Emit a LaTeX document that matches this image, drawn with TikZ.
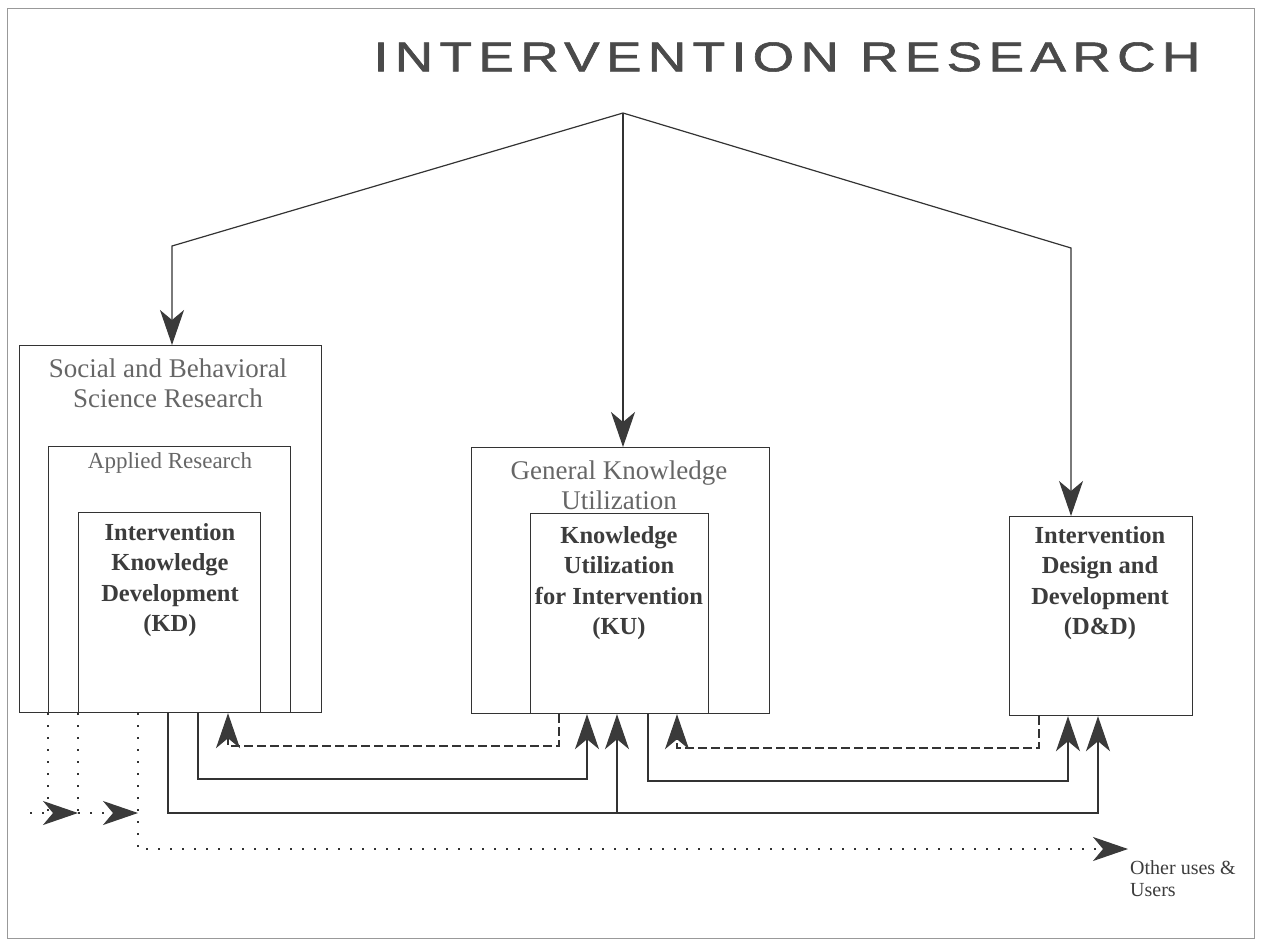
\documentclass[tikz,border=0pt]{standalone}
\usepackage{fontspec}
\usepackage{graphicx}
\setmainfont{Liberation Serif}
\newfontfamily\titlefont[LetterSpace=12, FakeBold=1.3]{Liberation Sans}
\usetikzlibrary{arrows.meta}
\definecolor{ink}{HTML}{333333}
\definecolor{tipc}{HTML}{3A3A3A}
\definecolor{outerlbl}{HTML}{666666}
\definecolor{innerlbl}{HTML}{3C3C3C}
\definecolor{titlec}{HTML}{4A4A4A}
\tikzset{
  box/.style={draw=ink, line width=1.2pt, anchor=north west, inner sep=0pt},
  conn/.style={draw=ink, line width=1.2pt},
  arr/.style={conn, -{Stealth[length=35pt, width=24pt, inset=10pt, fill=tipc, color=tipc]}},
  dashline/.style={dash pattern=on 9pt off 4pt},
  dotline/.style={dash pattern=on 2pt off 10pt},
  outertext/.style={text=outerlbl, align=center, inner sep=0pt, font=\fontsize{27}{30}\selectfont},
  innertext/.style={text=innerlbl, align=center, inner sep=0pt, font=\bfseries\fontsize{24.5}{30.5}\selectfont},
}
\begin{document}
\begin{tikzpicture}[x=1pt, y=-1pt]
\useasboundingbox (0,0) rectangle (1261,940);
% outer frame
\draw[draw=gray!80, line width=1pt] (7,8) rectangle (1254,938);

% title
\node[text=titlec, inner sep=0pt] (title) at (787,57) {\scalebox{1.33}[1.04]{\titlefont\fontsize{40}{42}\selectfont INTERVENTION RESEARCH}};

% boxes
\node[box, minimum width=302pt, minimum height=367pt] (sbsr) at (19,345) {};
\node[box, minimum width=242pt, minimum height=266pt] (applied) at (48,446) {};
\node[box, minimum width=182pt, minimum height=200pt] (kd) at (78,512) {};
\node[box, minimum width=298pt, minimum height=266pt] (gku) at (471,447) {};
\node[box, minimum width=178pt, minimum height=200pt] (ku) at (530,513) {};
\node[box, minimum width=183pt, minimum height=199pt] (dd) at (1009,516) {};

% labels
\node[outertext] (sbsrl) at (168,383) {Social and Behavioral\\Science Research};
\node[outertext, font=\fontsize{23}{26}\selectfont] (appliedl) at (170,463) {Applied Research};
\node[innertext] (kdl) at (170,580) {Intervention\\Knowledge\\Development\\(KD)};
\node[outertext] (gkul) at (619,485) {General Knowledge\\Utilization};
\node[innertext] (kul) at (619,583) {Knowledge\\Utilization\\for Intervention\\(KU)};
\node[innertext] (ddl) at (1100,583) {Intervention\\Design and\\Development\\(D\&D)};
\node[text=innerlbl, align=left, inner sep=0pt, anchor=west, font=\fontsize{20}{22}\selectfont] (other) at (1130,879) {Other uses \&\\Users};

% top fork
\coordinate (top) at (623,113);
\coordinate (lc) at (172,246);
\coordinate (rc) at (1071,248);
\draw[arr] (top) -- (lc) -- (lc |- sbsr.north);
\draw[arr] (top) -- (top |- gku.north);
\draw[arr] (top) -- (rc) -- (rc |- dd.north);

% solid feedback connectors
\coordinate (k1) at (168,813);
\coordinate (k2) at (1098,813);
\coordinate (k3) at (617,813);
\draw[arr] (k1 |- kd.south) -- (k1) -- (k2) -- (k2 |- dd.south);
\draw[arr] (k3) -- (k3 |- ku.south);
\coordinate (a1) at (198,779);
\coordinate (a2) at (587,779);
\draw[arr] (a1 |- kd.south) -- (a1) -- (a2) -- (a2 |- ku.south);
\coordinate (b1) at (648,781);
\coordinate (b2) at (1068,781);
\draw[arr] (b1 |- ku.south) -- (b1) -- (b2) -- (b2 |- dd.south);

% dashed connectors
\coordinate (c1) at (559,746);
\coordinate (c2) at (228,746);
\draw[arr, dashline] (c1 |- ku.south) -- (c1) -- (c2) -- (c2 |- kd.south);
\coordinate (d1) at (1039,748);
\coordinate (d2) at (677,748);
\draw[arr, dashline] (d1 |- dd.south) -- (d1) -- (d2) -- (d2 |- ku.south);

% dotted connectors
\coordinate (e0) at (30,813);
\coordinate (e1) at (48,813);
\coordinate (e2) at (78,813);
\coordinate (e3) at (138,813);
\coordinate (e4) at (138,849);
\coordinate (e5) at (1128,849);
\draw[conn, dotline] (applied.south west) -- (e1);
\draw[conn, dotline] (kd.south west) -- (e2);
\draw[arr, dotline] (e0) -- (e2);
\draw[arr, dotline] (e2) -- (e3);
\draw[arr, dotline] (e3 |- kd.south) -- (e4) -- (e5);
\end{tikzpicture}
\end{document}
